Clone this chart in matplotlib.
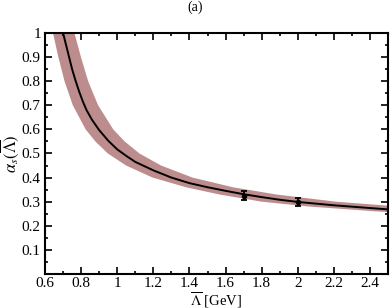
import matplotlib
matplotlib.use("Agg")
import matplotlib.pyplot as plt
from matplotlib.ticker import MultipleLocator

plt.rcParams['font.family'] = ['Liberation Serif', 'DejaVu Serif']
plt.rcParams['mathtext.fontset'] = 'stix'

# central curve alpha_s(Lambda-bar)
curve_x = [0.70, 0.72, 0.735, 0.75, 0.77, 0.79, 0.81, 0.83, 0.86, 0.90, 0.95, 1.00, 1.05, 1.10,
           1.20, 1.30, 1.40, 1.50, 1.60, 1.70, 1.80, 1.90, 2.00, 2.20, 2.50]
curve_y = [1.00, 0.94, 0.895, 0.85, 0.80, 0.755, 0.715, 0.68, 0.64, 0.597, 0.553, 0.517, 0.49, 0.465,
           0.43, 0.40, 0.377, 0.36, 0.345, 0.331, 0.319, 0.308, 0.299, 0.285, 0.268]

# uncertainty band: horizontal extent at each alpha level
band_levels = [1.05, 1.00, 0.90, 0.80, 0.70, 0.60, 0.55, 0.50, 0.45, 0.40, 0.36, 0.33, 0.30, 0.28, 0.26, 0.25]
band_left = [0.630, 0.644, 0.674, 0.708, 0.754, 0.825, 0.879, 0.948, 1.049, 1.196, 1.38, 1.565, 1.80, 2.06, 2.43, 2.65]
band_right = [0.747, 0.763, 0.799, 0.839, 0.894, 0.978, 1.041, 1.123, 1.243, 1.417, 1.64, 1.88, 2.21, 2.56, 3.05, 3.35]

# data points with errors
pts_x = [1.7, 2.0]
pts_y = [0.325, 0.298]
pts_err = [0.019, 0.016]

fig = plt.figure(figsize=(3.9, 3.08), dpi=100)
ax = fig.add_axes([0.1154, 0.1104, 0.8796, 0.7826])

ax.fill_betweenx(band_levels, band_left, band_right, color='#bd8c8c', lw=0, zorder=1)
ax.plot(curve_x, curve_y, color='black', lw=1.4, zorder=3)
ax.errorbar(pts_x, pts_y, yerr=pts_err, fmt='o', color='black', ms=3, capsize=2.5,
            elinewidth=1.3, capthick=1.3, zorder=4)

ax.set_xlim(0.6, 2.5)
ax.set_ylim(0.0, 1.0)
ax.xaxis.set_minor_locator(MultipleLocator(0.1))
ax.yaxis.set_minor_locator(MultipleLocator(0.05))
ax.set_xticks([0.6, 0.8, 1.0, 1.2, 1.4, 1.6, 1.8, 2.0, 2.2, 2.4])
ax.set_xticklabels(['0.6', '0.8', '1', '1.2', '1.4', '1.6', '1.8', '2', '2.2', '2.4'])
ax.set_yticks([0.1, 0.2, 0.3, 0.4, 0.5, 0.6, 0.7, 0.8, 0.9, 1.0])
ax.set_yticklabels(['0.1', '0.2', '0.3', '0.4', '0.5', '0.6', '0.7', '0.8', '0.9', '1'])
ax.tick_params(which='both', direction='in', top=True, right=True, labelsize=11, width=1.2)
ax.tick_params(which='major', length=5, pad=3)
ax.tick_params(axis='x', which='major', pad=2)
ax.tick_params(which='minor', length=2.5)
for s in ax.spines.values():
    s.set_linewidth(1.5)

ax.set_xlabel(r'$\overline{\Lambda}$ [GeV]', fontsize=10.5)
ax.xaxis.set_label_coords(0.5, -0.066)
ax.set_ylabel(r'$\alpha_s(\overline{\Lambda})$', fontsize=12)
ax.yaxis.set_label_coords(-0.07, 0.5)
fig.text(0.5, 0.975, '(a)', ha='center', va='center', fontsize=10)

fig.savefig('out.png', dpi=100)
